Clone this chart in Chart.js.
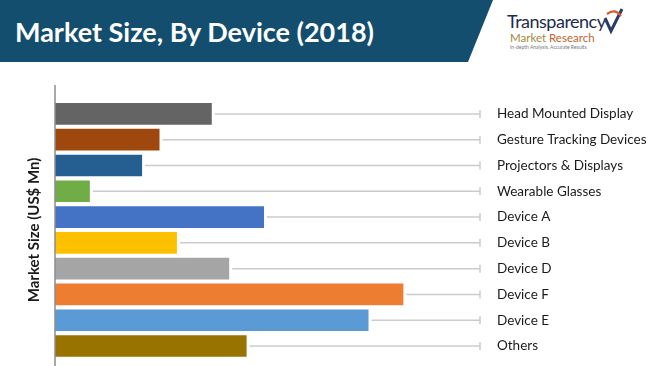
<!DOCTYPE html>
<html lang="en">
<head>
    <meta charset="UTF-8">
    <title>Market Size, By Device (2018)</title>
    <script src="https://cdn.jsdelivr.net/npm/chart.js"></script>
    <style>
        body { margin: 0; width: 650px; height: 366px; overflow: hidden; background: #fff; position: relative; font-family: Lato, sans-serif; }
        .banner {
            position: absolute; left: 0; top: 0; width: 493px; height: 62px;
            background: #134e6f;
            clip-path: polygon(0 0, 493px 0, 468px 62px, 0 62px);
        }
        .banner h1 {
            margin: 0; position: absolute; left: 15px; top: 15px;
            color: #fff; font: bold 27px Lato, sans-serif; white-space: nowrap;
        }
        .logo { position: absolute; left: 507px; top: 10px; }
        .logo .t1 { font: 18px Lato, sans-serif; color: #1d2b4f; letter-spacing: -0.5px; }
        .logo .t2 { font: 11.5px Lato, sans-serif; margin-top: -1px; margin-left: 3px; }
        .logo .t3 { font: 5px Lato, sans-serif; color: #777; margin-left: 3px; }
        .logo svg { position: absolute; left: 95px; top: -5px; }
        canvas { position: absolute; left: 0; top: 0; }
    </style>
</head>
<body>
    <div class="banner"><h1>Market Size, By Device (2018)</h1></div>
    <div class="logo">
        <div class="t1">Transparency</div>
        <div class="t2"><span style="color:#a18a3c">Market</span> <span style="color:#c4622c">Research</span></div>
        <div class="t3">In-depth Analysis. Accurate Results</div>
        <svg width="24" height="30" viewBox="0 0 24 30">
            <path d="M3 13 L9 26 L20 4" fill="none" stroke="#2b3d66" stroke-width="3"/>
            <path d="M5 9 Q13 3 19 11" fill="none" stroke="#d9582b" stroke-width="2.2"/>
        </svg>
    </div>
    <canvas id="deviceChart" width="650" height="384"></canvas>
    <script>
        const categories = ['Head Mounted Display', 'Gesture Tracking Devices', 'Projectors & Displays', 'Wearable Glasses',
            'Device A', 'Device B', 'Device D', 'Device F', 'Device E', 'Others'];
        const marketSize = [45, 30, 25, 10, 60, 35, 50, 100, 90, 55];
        const barColors = ['#646464', '#9e480e', '#255e91', '#70ad47', '#4472c4',
            '#ffc000', '#a5a5a5', '#ed7d31', '#5b9bd5', '#997300'];

        // grey leader line from the end of each bar to its label
        const leaderLines = {
            id: 'leaderLines',
            afterDatasetsDraw(chart) {
                const ctx = chart.ctx;
                const right = chart.chartArea.right;
                ctx.save();
                ctx.strokeStyle = '#cbcbcb';
                ctx.lineWidth = 1.5;
                chart.getDatasetMeta(0).data.forEach(bar => {
                    ctx.beginPath();
                    ctx.moveTo(bar.x + 3, bar.y);
                    ctx.lineTo(right, bar.y);
                    ctx.moveTo(right, bar.y - 4);
                    ctx.lineTo(right, bar.y + 4);
                    ctx.stroke();
                });
                // value axis line
                const x0 = chart.scales.x.getPixelForValue(0);
                ctx.strokeStyle = '#8c8c8c';
                ctx.lineWidth = 1.5;
                ctx.beginPath();
                ctx.moveTo(x0, chart.chartArea.top - 16);
                ctx.lineTo(x0, chart.height);
                ctx.stroke();
                ctx.restore();
            }
        };

        new Chart(document.getElementById('deviceChart').getContext('2d'), {
            type: 'bar',
            data: {
                labels: categories,
                datasets: [{
                    data: marketSize,
                    backgroundColor: barColors,
                    barPercentage: 0.84,
                    categoryPercentage: 1
                }]
            },
            options: {
                indexAxis: 'y',
                responsive: false,
                animation: false,
                layout: { padding: { top: 101, bottom: 8, left: 0, right: 0 } },
                scales: {
                    x: { display: false, min: 0, max: 122 },
                    y: {
                        position: 'left',
                        grid: { display: false, drawTicks: false },
                        border: { display: false },
                        ticks: { display: false },
                        title: {
                            display: true,
                            text: 'Market Size (US$ Mn)',
                            color: '#1a1a1a',
                            font: { family: 'Lato', size: 15, weight: 'bold', lineHeight: 1.2 },
                            padding: { top: 25, bottom: 0 }
                        },
                        afterFit(scale) { scale.width = 55; }
                    },
                    y2: {
                        type: 'category',
                        labels: categories,
                        position: 'right',
                        offset: true,
                        grid: { display: false, drawTicks: false },
                        border: { display: false },
                        ticks: {
                            padding: 17,
                            color: '#1a1a1a',
                            font: { family: 'Lato', size: 13.5 }
                        },
                        afterFit(scale) { scale.width = 170; }
                    }
                },
                plugins: {
                    legend: { display: false },
                    tooltip: { enabled: false }
                }
            },
            plugins: [leaderLines]
        });
    </script>
</body>
</html>
